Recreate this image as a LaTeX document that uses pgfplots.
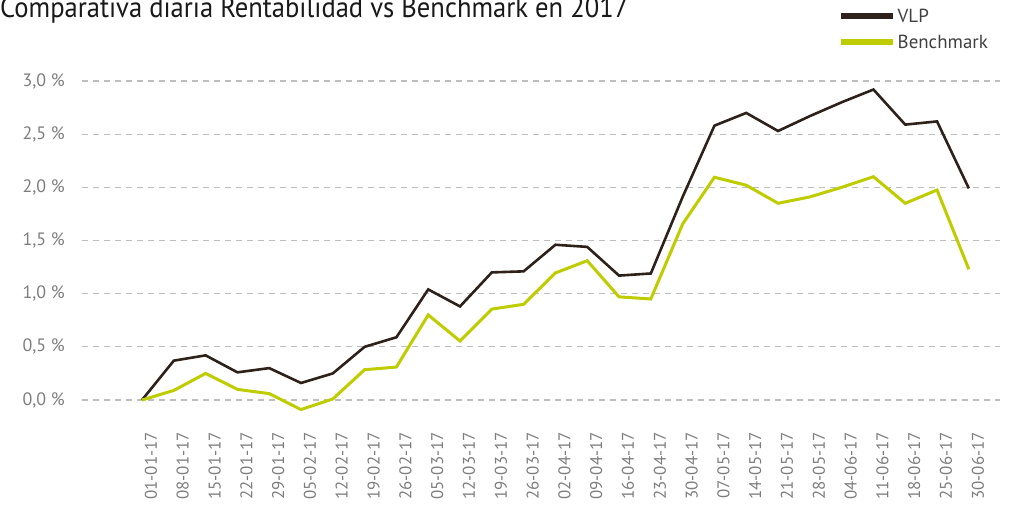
\documentclass[border=0pt]{standalone}
\usepackage{pgfplots}
\pgfplotsset{compat=1.18}
\usepackage{fontspec}
\setmainfont{PT Sans}
\newfontfamily\titlefont[FakeStretch=0.92]{PT Sans}
\definecolor{vlp}{RGB}{45,33,25}
\definecolor{bench}{RGB}{190,204,0}
\definecolor{tickgray}{RGB}{125,125,125}
\definecolor{gridgray}{RGB}{190,190,190}
\begin{document}
\begin{tikzpicture}
\useasboundingbox (0,0) rectangle (1011bp,509bp);
\node[anchor=base west, inner sep=0pt, font=\titlefont\fontsize{29}{31}\selectfont, text=black!90] at (0bp,491.7bp) {Comparativa diaria Rentabilidad vs Benchmark en 2017};
\begin{axis}[
  at={(82bp,77.1bp)}, anchor=south west,
  scale only axis, width=918bp, height=353bp,
  xmin=-1.887, xmax=26.98, ymin=-0.3, ymax=3.02,
  axis line style={draw=none}, tick style={draw=none},
  ymajorgrids, major grid style={gridgray, dash pattern=on 6bp off 5bp, line width=1.2bp},
  ytick={0,0.5,1,1.5,2,2.5,3},
  yticklabels={{0,0 \%},{0,5 \%},{1,0 \%},{1,5 \%},{2,0 \%},{2,5 \%},{3,0 \%}},
  yticklabel style={anchor=east, inner sep=0pt, xshift=-17bp, font=\fontsize{18}{20}\selectfont, text=tickgray},
  xtick={0,...,26},
  xticklabels={01-01-17,08-01-17,15-01-17,22-01-17,29-01-17,05-02-17,12-02-17,19-02-17,26-02-17,05-03-17,12-03-17,19-03-17,26-03-17,02-04-17,09-04-17,16-04-17,23-04-17,30-04-17,07-05-17,14-05-17,21-05-17,28-05-17,04-06-17,11-06-17,18-06-17,25-06-17,30-06-17},
  xticklabel style={rotate=90, anchor=east, inner sep=0pt, yshift=-9bp, font=\fontsize{17}{19}\selectfont, text=tickgray},
  legend style={at={(0.823,1.205)}, anchor=north west, draw=none, fill=none, inner sep=0pt, row sep=7bp, font=\fontsize{19}{21}\selectfont, text=black!75, legend cell align=left},
  legend image code/.code={\draw[#1, line width=6bp] (0bp,0bp) -- (52bp,0bp);},
]
\addplot[vlp, line width=2.6bp, line join=miter] coordinates {
(0,0) (1,0.37) (2,0.42) (3,0.26) (4,0.30) (5,0.16) (6,0.25) (7,0.50) (8,0.59) (9,1.04) (10,0.88) (11,1.20) (12,1.21)
(13,1.46) (14,1.44) (15,1.17) (16,1.19) (17,1.91) (18,2.58) (19,2.70) (20,2.53) (21,2.67) (22,2.80) (23,2.92) (24,2.59) (25,2.62) (26,1.99)};
\addlegendentry{VLP}
\addplot[bench, line width=3bp, line join=miter] coordinates {
(0,0) (1,0.09) (2,0.25) (3,0.10) (4,0.06) (5,-0.09) (6,0.01) (7,0.285) (8,0.31) (9,0.80) (10,0.555) (11,0.855) (12,0.90)
(13,1.195) (14,1.31) (15,0.97) (16,0.95) (17,1.655) (18,2.095) (19,2.02) (20,1.85) (21,1.91) (22,2.00) (23,2.10) (24,1.85) (25,1.975) (26,1.23)};
\addlegendentry{Benchmark}
\end{axis}
\end{tikzpicture}
\end{document}
